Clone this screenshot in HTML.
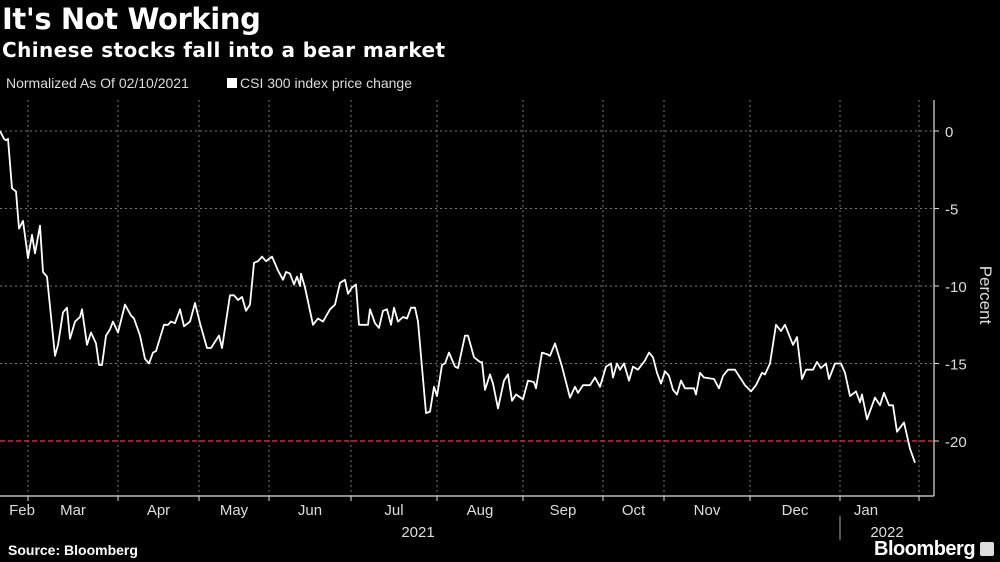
<!DOCTYPE html>
<html><head><meta charset="utf-8">
<style>
html,body{margin:0;padding:0;background:#000;}
body{width:1000px;height:562px;overflow:hidden;position:relative;font-family:"Liberation Sans",sans-serif;color:#fff;}
.t{position:absolute;white-space:nowrap;}
</style></head>
<body>
<div class="t" style="left:2px;top:2px;font-size:29px;font-weight:bold;font-family:'DejaVu Sans',sans-serif;letter-spacing:-0.4px;">It's Not Working</div>
<div class="t" style="left:2px;top:38px;font-size:20px;font-weight:bold;font-family:'DejaVu Sans',sans-serif;letter-spacing:0.4px;">Chinese stocks fall into a bear market</div>
<div class="t" style="left:6px;top:75px;font-size:14px;color:#ddd;">Normalized As Of 02/10/2021</div>
<div class="t" style="left:227px;top:75px;font-size:14px;color:#ddd;"><span style="display:inline-block;width:10px;height:10px;background:#fff;margin-right:3px;"></span>CSI 300 index price change</div>
<svg id="chart" width="1000" height="562" style="position:absolute;left:0;top:0;"></svg>
<div class="t" style="left:8px;top:542px;font-size:14px;font-weight:bold;">Source: Bloomberg</div>
<div class="t" style="left:874px;top:538px;font-size:20px;font-weight:bold;letter-spacing:-0.5px;">Bloomberg <span style="display:inline-block;width:14px;height:14px;background:#ddd;border-radius:2px;vertical-align:-1px;"></span></div>
<script>
const tradingDays=[0,1,1.5,2,3,4,4.75,5.75,7,8,8.75,10,10.75,11.75,13.75,14.5,15.75,16.75,17.5,18.75,20,20.5,21.75,22.75,24,24.75,25.5,26.5,27.5,28.25,29.5,31.25,32.75,33.5,35,36.25,37.25,38.25,39,41,42,42.75,43.75,45,46,47.5,48.75,50,51.75,52.75,54.75,55.5,57.5,58.5,59.5,60.5,61.5,62.5,63.5,64.5,65.5,66.5,68,69.5,70.75,71.5,72.5,73.5,74.25,75,
75.25,76.25,78.25,79.5,80.75,82.5,83.75,85,86.25,87,88,89,89.75,92,92.5,93.75,94.75,95.75,96.75,97.75,98.5,99.5,100.75,101.75,102.75,103.75,104.5,106.5,107.5,108.5,109.25,110.5,111.25,112.25,113.75,114.5,116.25,117,118.5,120,120.5,121.25,122.5,123.25,124.5,126,127,128,129,130.75,132,133.5,134,135.5,136.75,137.5,138.75,140.5,142.5,143.75,144.5,145.75,147.5,148.75,
150,151.5,152.75,153.25,154.25,155,156,157.25,158.25,159.5,161.25,162.25,163.25,164.25,165.25,166.25,167.25,168.25,169.25,170.25,171.25,172.5,173.5,174,175,176,178.5,179.75,180.75,182,183.75,186.25,187.75,189,190.5,191.25,192.5,194,195.25,196.25,198.25,199.25,200.5,201.5,203.25,204.25,205.25,206.5,207.25,208.75,210.25,211.25,212.5,214,215,215.5,216.75,218.75,220,221,222.25,223.25,224.25,226,227.5,228.75];
const values=[0,-0.5,-0.6,-0.5,-3.7,-3.9,-6.3,-5.8,-8.2,-6.7,-7.9,-6.1,-9.1,-9.4,-14.5,-13.8,-11.7,-11.4,-13.4,-12.3,-12.0,-11.5,-13.8,-13.0,-13.7,-15.1,-15.1,-13.2,-12.8,-12.3,-13.0,-11.2,-11.9,-12.1,-13.2,-14.7,-15.0,-14.3,-14.2,-12.5,-12.5,-12.3,-12.4,-11.5,-12.6,-12.3,-11.1,-12.4,-14.0,-14.0,-13.2,-14.0,-10.6,-10.6,-10.9,-10.7,-11.6,-11.2,-8.5,-8.4,-8.1,-8.4,-8.1,-9.0,-9.6,-9.1,-9.2,-9.9,-9.4,-10.0,
-9.2,-10.1,-12.5,-12.1,-12.3,-11.5,-11.2,-9.8,-9.6,-10.5,-10.1,-9.9,-12.5,-12.5,-11.5,-12.4,-12.7,-11.6,-11.5,-12.5,-11.4,-12.3,-12.0,-12.1,-11.4,-11.4,-12.3,-18.2,-18.1,-16.5,-17.1,-15.1,-15.0,-14.3,-15.2,-15.3,-13.2,-13.2,-14.6,-14.9,-14.9,-16.7,-15.7,-16.3,-17.9,-16.1,-15.7,-17.4,-17.0,-17.3,-16.1,-16.2,-16.6,-14.3,-14.4,-14.5,-13.7,-15.2,-17.2,-16.5,-16.9,-16.4,-16.4,-15.9,
-16.5,-15.2,-15.0,-15.9,-15.0,-15.4,-15.0,-16.1,-15.2,-15.4,-14.8,-14.3,-14.6,-15.6,-16.3,-15.5,-15.8,-16.7,-17.0,-16.1,-16.6,-16.6,-16.6,-17.0,-15.6,-15.9,-16.0,-16.6,-15.8,-15.4,-15.4,-16.4,-16.8,-16.4,-15.6,-15.7,-15.0,-12.5,-12.9,-12.5,-13.8,-13.3,-16.0,-15.4,-15.4,-14.9,-15.3,-15.0,-16.0,-15.0,-15.0,-15.6,-17.1,-16.8,-17.5,-17.0,-18.6,-17.2,-17.7,-16.9,-17.7,-17.7,-19.4,-18.8,-20.5,-21.4];
const yTicks=[0,-5,-10,-15,-20];
const yTickLabels=["0","-5","-10","-15","-20"];
const bearLevel=-20;
const monthLabels=["Feb","Mar","Apr","May","Jun","Jul","Aug","Sep","Oct","Nov","Dec","Jan"];
const monthLabelBounds=[4,7,29.5,49.75,67.25,87.75,109.25,130.75,150.75,166,187.5,210,223];
const gridDays=[7,29.5,49.75,67.25,87.75,109.25,130.75,150.75,166,187.5,210,229.75];
const yearBoundaryDay=210;
const NS="http://www.w3.org/2000/svg";
const svg=document.getElementById('chart');
const AX=934,AY=496,PX=4;
const y=v=>131+(-v)*15.5;
const x=d=>d*PX;
function mk(tag,attrs){const e=document.createElementNS(NS,tag);for(const k in attrs)e.setAttribute(k,attrs[k]);svg.appendChild(e);return e;}
yTicks.forEach((t,i)=>{
  if(t!==bearLevel){const g=mk('line',{x1:0,x2:AX,y1:y(t),y2:y(t),stroke:'#777','stroke-width':1,'stroke-dasharray':'2,3'});
  
  }
  const tk=mk('line',{x1:AX,x2:AX+5,y1:y(t),y2:y(t),stroke:'#ddd'});
  
  
  const tx=mk('text',{x:AX+11,y:y(t)+6,fill:'#ddd','font-size':15,'font-family':'Liberation Sans, sans-serif'});
  tx.textContent=yTickLabels[i];
  
  
});
gridDays.forEach(d=>{
  const g=mk('line',{x1:x(d),x2:x(d),y1:100,y2:AY,stroke:'#777','stroke-width':1,'stroke-dasharray':'2,3'});
  
  
  const tk=mk('line',{x1:x(d),x2:x(d),y1:AY,y2:AY+5,stroke:'#ddd'});
  
  
});
monthLabels.forEach((m,i)=>{
  const cx=(x(monthLabelBounds[i])+x(monthLabelBounds[i+1]))/2;
  const tx=mk('text',{x:cx,y:515,fill:'#ddd','font-size':15,'text-anchor':'middle','font-family':'Liberation Sans, sans-serif'});
  tx.textContent=m;
  
  
});
const ya=mk('line',{x1:AX,x2:AX,y1:100,y2:AY,stroke:'#ddd','stroke-width':1.2});


const xa=mk('line',{x1:0,x2:AX,y1:AY,y2:AY,stroke:'#ddd','stroke-width':1.2});


const y1=mk('text',{x:418,y:537,fill:'#ddd','font-size':15,'text-anchor':'middle','font-family':'Liberation Sans, sans-serif'});y1.textContent='2021';


const y2=mk('text',{x:887,y:537,fill:'#ddd','font-size':15,'text-anchor':'middle','font-family':'Liberation Sans, sans-serif'});y2.textContent='2022';


const sep=mk('line',{x1:x(yearBoundaryDay),x2:x(yearBoundaryDay),y1:516,y2:540,stroke:'#aaa'});


const at=mk('text',{x:980,y:295,fill:'#ddd','font-size':17,'text-anchor':'middle',transform:'rotate(90 980 295)','font-family':'Liberation Sans, sans-serif'});at.textContent='Percent';


const bl=mk('line',{x1:0,x2:AX,y1:y(bearLevel),y2:y(bearLevel),stroke:'#e0242a','stroke-width':1.5,'stroke-dasharray':'5,3'});


const pts=values.map((v,i)=>x(tradingDays[i]).toFixed(1)+','+y(v).toFixed(1)).join(' ');
const pl=mk('polyline',{points:pts,fill:'none',stroke:'#fff','stroke-width':1.8,'stroke-linejoin':'round'});


</script>
</body></html>
